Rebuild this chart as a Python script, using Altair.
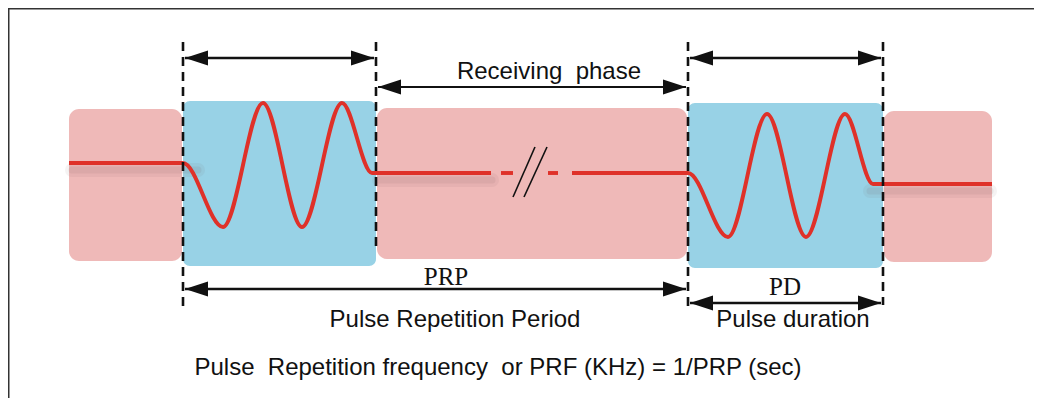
import altair as alt
import pandas as pd

# ---------------- diagram values (pixel units) ----------------
pink_x0 = [69, 377, 884]
pink_x1 = [182, 687, 992]
pink_y0 = [109, 108, 111]
pink_y1 = [261, 259, 262]

blue_x0 = [183, 688]
blue_x1 = [376, 883]
blue_y0 = [101, 103]
blue_y1 = [266, 268]

pulse1_x = [69, 183, 223, 263, 302, 342, 372, 491]
pulse1_y = [163, 163, 227, 103, 227, 103, 173, 173]
pulse2_x = [572, 688, 728, 767, 806, 845, 873, 992]
pulse2_y = [173, 173, 237, 114, 237, 114, 184, 184]

gap_dash_x0 = [501, 548]
gap_dash_x1 = [513, 558]
gap_dash_y = [173, 173]

shadow_x0 = [72, 379, 870]
shadow_x1 = [198, 492, 990]
shadow_y = [170, 180, 191]

slash_x_top = [535, 547]
slash_x_bottom = [513, 524]
slash_y_top = [147, 147]
slash_y_bottom = [197, 197]

marker_x = [183, 376, 688, 883]
marker_top = [42, 42, 42, 42]
marker_bottom = [311, 252, 310, 305]

arrow_x0 = [185, 690, 378, 185, 690]
arrow_x1 = [374, 881, 686, 686, 881]
arrow_y = [58, 58, 87, 289, 303]
arrow_w = [2.5, 2.5, 2, 2.5, 2.5]

sans_labels = ["Receiving\u00a0 phase", "Pulse Repetition Period", "Pulse duration",
               "Pulse\u00a0 Repetition frequency\u00a0 or PRF (KHz) = 1/PRP (sec)"]
sans_x = [549, 455, 793, 498]
sans_y = [79, 327, 327, 375]

serif_labels = ["PRP", "PD"]
serif_x = [446, 785]
serif_y = [285, 295]

frame_top_y = [8.75]
frame_left_x = [8.75]

# plot area kept a little smaller than the window so the page never scrolls
W, H = 1026, 390

# ---------------- tables ----------------
pink = pd.DataFrame({"x": pink_x0, "x2": pink_x1, "y": pink_y0, "y2": pink_y1})
blue = pd.DataFrame({"x": blue_x0, "x2": blue_x1, "y": blue_y0, "y2": blue_y1})
pulse = pd.concat([
    pd.DataFrame({"x": pulse1_x, "y": pulse1_y, "seg": "a", "i": range(len(pulse1_x))}),
    pd.DataFrame({"x": pulse2_x, "y": pulse2_y, "seg": "b", "i": range(len(pulse2_x))}),
])
gaps = pd.DataFrame({"x": gap_dash_x0, "x2": gap_dash_x1, "y": gap_dash_y})
shadow = pd.DataFrame({"x": shadow_x0, "x2": shadow_x1, "y": shadow_y})
slashes = pd.DataFrame({"x": slash_x_top, "x2": slash_x_bottom, "y": slash_y_top, "y2": slash_y_bottom})
markers = pd.DataFrame({"x": marker_x, "y": marker_top, "y2": marker_bottom})
arrows = pd.DataFrame({"x": arrow_x0, "x2": arrow_x1, "y": arrow_y, "w": arrow_w})
sans = pd.DataFrame({"x": sans_x, "y": sans_y, "t": sans_labels})
serif = pd.DataFrame({"x": serif_x, "y": serif_y, "t": serif_labels})
frame_top = pd.DataFrame({"y": frame_top_y})
frame_left = pd.DataFrame({"x": frame_left_x})

xs = alt.Scale(domain=[8, 8 + W], nice=False, zero=False)
ys = alt.Scale(domain=[8, 8 + H], nice=False, zero=False, reverse=True)
X = lambda f="x": alt.X(f"{f}:Q", scale=xs, axis=None)
Y = lambda f="y": alt.Y(f"{f}:Q", scale=ys, axis=None)

PINK = "#efb9b8"
BLUE = "#98d2e6"
RED = "#df3129"
INK = "#111111"

pink_l = alt.Chart(pink).mark_rect(color=PINK, cornerRadius=10).encode(
    x=X(), x2="x2:Q", y=Y(), y2="y2:Q")
blue_l = alt.Chart(blue).mark_rect(color=BLUE, cornerRadius=7).encode(
    x=X(), x2="x2:Q", y=Y(), y2="y2:Q")

shadow_wide = alt.Chart(shadow).mark_rule(color="#6e5050", opacity=0.07, strokeWidth=14, strokeCap="round").encode(
    x=X(), x2="x2:Q", y=Y())
shadow_narrow = alt.Chart(shadow).mark_rule(color="#6e5050", opacity=0.09, strokeWidth=7, strokeCap="round").encode(
    x=X(), x2="x2:Q", y=Y())

pulse_l = alt.Chart(pulse).mark_line(color=RED, strokeWidth=3.9, interpolate="monotone").encode(
    x=X(), y=Y(), detail="seg:N", order="i:Q")
gaps_l = alt.Chart(gaps).mark_rule(color=RED, strokeWidth=3.9).encode(x=X(), x2="x2:Q", y=Y())

slash_l = alt.Chart(slashes).mark_rule(color=INK, strokeWidth=1.6).encode(
    x=X(), x2="x2:Q", y=Y(), y2="y2:Q")

marker_l = alt.Chart(markers).mark_rule(color=INK, strokeWidth=2.6, strokeDash=[9, 6]).encode(
    x=X(), y=Y(), y2="y2:Q")

arrow_lines = alt.Chart(arrows).mark_rule(color=INK).encode(
    x=X(), x2="x2:Q", y=Y(), strokeWidth=alt.StrokeWidth("w:Q", scale=None))
head_left = alt.Chart(arrows).mark_point(
    shape="M0,0L2,-0.65L2,0.65Z", filled=True, opacity=1, color=INK, size=529, strokeWidth=0
).encode(x=X(), y=Y())
head_right = alt.Chart(arrows).mark_point(
    shape="M0,0L-2,-0.65L-2,0.65Z", filled=True, opacity=1, color=INK, size=529, strokeWidth=0
).encode(x=X("x2"), y=Y())

sans_l = alt.Chart(sans).mark_text(font="Liberation Sans", fontSize=24, align="center",
                                   baseline="alphabetic", color=INK).encode(x=X(), y=Y(), text="t:N")
serif_l = alt.Chart(serif).mark_text(font="Liberation Serif", fontSize=25, align="center",
                                     baseline="alphabetic", color=INK).encode(x=X(), y=Y(), text="t:N")

# frame: top edge spans the whole width, left edge the whole height
frame_top_l = alt.Chart(frame_top).mark_rule(color="#333333", strokeWidth=1.5).encode(y=Y())
frame_left_l = alt.Chart(frame_left).mark_rule(color="#333333", strokeWidth=1.5).encode(x=X())

chart = alt.layer(
    pink_l, blue_l, shadow_wide, shadow_narrow, pulse_l, gaps_l, slash_l, marker_l,
    arrow_lines, head_left, head_right, sans_l, serif_l, frame_top_l, frame_left_l
).properties(
    width=W, height=H, padding=0, background="white",
    autosize=alt.AutoSizeParams(type="none")
).configure_view(stroke="transparent", strokeWidth=0)

chart.save("out.html", embed_options={"renderer": "svg", "actions": False})
